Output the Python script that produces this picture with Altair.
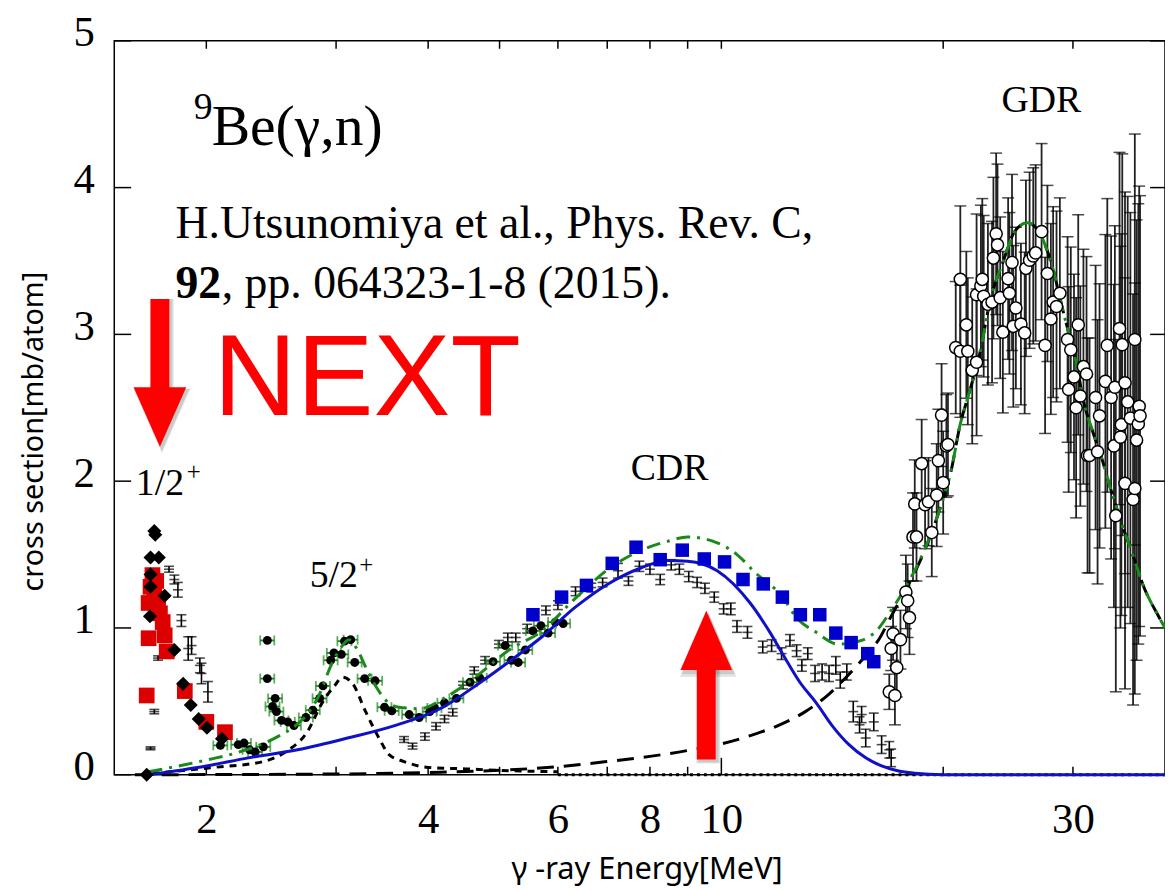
import altair as alt
import pandas as pd

# ---------------- data ----------------
# red squares (low-energy 1/2+ region)
RED_E = [1.66, 1.67, 1.67, 1.68, 1.69, 1.70, 1.71, 1.72, 1.73, 1.745, 1.756, 1.767, 1.87, 2.00, 2.12]
RED_S = [0.54, 0.93, 1.17, 1.28, 1.36, 1.22, 1.32, 1.18, 1.10, 1.04, 0.95, 0.84, 0.57, 0.36, 0.29]

# black diamonds
DIA_E = [1.66, 1.677, 1.68, 1.68, 1.68, 1.70, 1.705, 1.724, 1.756, 1.81, 1.86, 1.905, 1.953, 2.004, 2.10]
DIA_S = [0.00, 1.08, 1.28, 1.365, 1.48, 1.66, 1.635, 1.48, 1.22, 0.85, 0.62, 0.475, 0.38, 0.32, 0.245]

# small black points with error bars
K_E = [1.68, 1.70, 1.72, 1.78, 1.81, 1.83, 1.85, 1.89, 1.91, 1.96, 1.97, 2.01,
       3.71, 3.81, 3.96, 4.10, 4.21, 4.32, 4.46, 4.62, 4.78, 4.99,
       5.13, 5.26, 5.45, 5.78, 6.00, 6.34, 6.66, 6.90, 7.24, 7.48,
       7.74, 8.00, 8.26, 8.55, 8.77, 9.03, 9.27, 9.50, 9.78, 10.07,
       10.3, 10.5, 10.85, 11.38, 11.7, 12.07, 12.39, 12.65, 12.86, 13.1,
       13.4, 13.7, 14.0, 14.3, 14.5, 14.8, 15.1, 15.4, 15.5, 15.7,
       16.1, 16.5, 16.9, 17.0]
K_S = [0.18, 0.43, 0.795, 1.40, 1.33, 1.26, 1.05, 0.86, 0.88, 0.745, 0.69, 0.565,
       0.24, 0.195, 0.26, 0.33, 0.38, 0.425, 0.61, 0.71, 0.78, 0.89,
       0.935, 0.935, 0.995, 1.12, 1.155, 1.25, 1.275, 1.31, 1.39, 1.32,
       1.42, 1.40, 1.33, 1.43, 1.40, 1.35, 1.31, 1.27, 1.21, 1.13,
       1.13, 1.01, 0.97, 0.87, 0.88, 0.825, 0.915, 0.845, 0.745, 0.825,
       0.69, 0.70, 0.69, 0.745, 0.645, 0.70, 0.43, 0.34, 0.41, 0.25,
       0.36, 0.205, 0.17, 0.115]
K_ERR = [0.01, 0.015, 0.015, 0.02, 0.03, 0.05, 0.04, 0.08, 0.06, 0.05, 0.07, 0.07,
         0.02, 0.02, 0.025, 0.025, 0.025, 0.025, 0.025, 0.025, 0.025, 0.025,
         0.03, 0.03, 0.03, 0.03, 0.03, 0.03, 0.03, 0.03, 0.05, 0.03,
         0.035, 0.035, 0.035, 0.035, 0.035, 0.035, 0.035, 0.035, 0.035, 0.035,
         0.04, 0.04, 0.04, 0.04, 0.04, 0.04, 0.04, 0.04, 0.04, 0.04,
         0.055, 0.055, 0.055, 0.06, 0.055, 0.055, 0.07, 0.055, 0.055, 0.06,
         0.06, 0.06, 0.056, 0.06]

# black dots with green error bars
G_E = [2.09, 2.21, 2.25, 2.29, 2.33, 2.39, 2.42, 2.42, 2.46, 2.48,
       2.49, 2.53, 2.58, 2.63, 2.73, 2.79, 2.85, 2.88, 2.95, 2.98,
       3.05, 3.08, 3.14, 3.18, 3.28, 3.39, 3.49, 3.57, 3.77, 3.89,
       4.02, 4.08, 4.21, 4.37, 4.56, 4.70, 4.90, 5.09, 5.19, 5.30,
       5.42, 5.55, 5.69, 5.82, 5.95, 6.10]
G_S = [0.20, 0.205, 0.216, 0.17, 0.155, 0.19, 0.915, 0.655, 0.465, 0.52,
       0.43, 0.37, 0.36, 0.335, 0.39, 0.44, 0.52, 0.605, 0.78, 0.83,
       0.82, 0.91, 0.92, 0.765, 0.655, 0.64, 0.46, 0.435, 0.41, 0.39,
       0.43, 0.455, 0.49, 0.52, 0.63, 0.66, 0.77, 0.88, 0.78, 0.765,
       0.85, 0.98, 1.015, 0.965, 1.04, 1.03]

# blue squares
B_E = [5.55, 6.07, 6.56, 7.11, 7.66, 8.26, 8.85, 9.48, 10.1, 10.7, 11.4, 12.1, 12.8, 13.6, 14.3, 15.0, 15.8, 16.1]
B_S = [1.09, 1.21, 1.29, 1.44, 1.55, 1.465, 1.53, 1.47, 1.45, 1.33, 1.30, 1.21, 1.09, 1.09, 0.965, 0.90, 0.825, 0.77]

# open circles (GDR region) with error bars
O_E = [16.9, 17.0, 17.1, 17.2, 17.3, 17.5, 17.8, 17.9, 18.0, 18.2,
       18.3, 18.4, 18.7, 18.9, 19.1, 19.3, 19.6, 19.7, 19.9, 20.0,
       20.2, 20.3, 20.8, 21.1, 21.1, 21.5, 21.6, 21.9, 22.2, 22.2,
       22.5, 22.6, 22.7, 23.0, 23.3, 23.4, 23.6, 23.7, 23.9, 24.1,
       24.5, 24.6, 24.8, 24.9, 25.1, 25.5, 25.8, 25.9, 26.2, 26.5,
       26.7, 27.2, 27.5, 27.7, 28.0, 28.2, 28.5, 28.8, 29.5, 29.6,
       29.8, 30.1, 30.3, 30.5, 30.7, 31.0, 31.3, 31.4, 31.6, 32.2,
       32.4, 32.6, 33.2, 33.4, 33.8, 34.1, 34.2, 34.3, 34.7, 34.8,
       34.9, 35.0, 35.3, 35.3, 35.6, 35.9, 36.2, 36.4, 36.4, 36.6,
       36.8, 36.9, 37.0]
O_S = [0.565, 0.86, 0.96, 0.54, 0.73, 0.92, 1.245, 1.185, 1.07, 1.62,
       1.845, 1.62, 2.12, 1.84, 1.86, 1.65, 1.905, 2.14, 2.45, 1.99,
       2.24, 2.25, 2.91, 3.375, 2.885, 3.065, 2.885, 2.755, 2.81, 3.27,
       3.33, 3.375, 3.26, 3.205, 3.22, 3.52, 3.685, 3.61, 3.25, 3.015,
       3.38, 3.28, 3.49, 3.055, 3.18, 3.07, 3.01, 3.45, 3.505, 3.535,
       3.555, 3.70, 2.925, 3.415, 3.105, 3.22, 3.19, 3.28, 2.965, 2.625,
       2.895, 2.71, 2.50, 3.065, 2.58, 2.78, 2.73, 2.175, 2.175, 2.57,
       2.20, 2.445, 2.68, 2.925, 2.57, 2.24, 2.64, 1.765, 3.04, 2.30,
       2.385, 2.93, 2.67, 1.985, 2.54, 2.43, 1.875, 2.965, 1.95, 2.28,
       2.39, 2.51, 2.445]
O_ERR = [0.12, 0.15, 0.18, 0.2, 0.2, 0.2, 0.25, 0.25, 0.25, 0.3,
         0.3, 0.3, 0.3, 0.3, 0.3, 0.3, 0.35, 0.35, 0.35, 0.35,
         0.35, 0.35, 0.45, 0.5, 0.45, 0.5, 0.5, 0.5, 0.5, 0.55,
         0.55, 0.55, 0.55, 0.55, 0.55, 0.55, 0.55, 0.55, 0.55, 0.55,
         0.55, 0.55, 0.6, 0.55, 0.55, 0.55, 0.55, 0.6, 0.6, 0.6,
         0.6, 0.6, 0.6, 0.6, 0.65, 0.65, 0.65, 0.65, 0.7, 0.7,
         0.7, 0.7, 0.75, 0.75, 0.75, 0.8, 0.8, 0.8, 0.8, 0.9,
         0.9, 0.9, 1.0, 1.0, 1.1, 1.1, 1.1, 1.2, 1.2, 1.3,
         1.3, 1.3, 1.3, 1.4, 1.4, 1.4, 1.4, 1.4, 1.4, 1.5,
         1.5, 1.5, 1.5]

# curves
CDR_E = [1.67, 2.0, 2.28, 2.66, 3.11, 3.63, 4.19, 4.65, 5.15, 5.71, 6.33, 7.02, 7.79, 8.45, 9.0,
         9.87, 10.94, 11.64, 12.15, 12.78, 13.45, 14.16, 14.9, 15.7, 16.5, 17.4, 18.3, 20.0, 25.0, 30.0, 40.0]
CDR_S = [0.0, 0.06, 0.115, 0.17, 0.25, 0.34, 0.46, 0.61, 0.77, 0.94, 1.14, 1.30, 1.41, 1.46, 1.455,
         1.39, 1.17, 0.97, 0.81, 0.63, 0.49, 0.33, 0.205, 0.115, 0.06, 0.025, 0.01, 0.0, 0.0, 0.0, 0.0]

TOT_E = [1.67, 2.0, 2.2, 2.5, 2.65, 2.75, 2.85, 2.95, 3.05, 3.12, 3.2, 3.3, 3.4, 3.5, 3.65, 3.9,
         4.2, 4.65, 5.15, 5.71, 6.33, 7.02, 7.79, 8.45, 9.0, 9.87, 10.5, 11.1, 12.15, 12.6, 13.45,
         14.4, 15.5, 16.3, 17.0, 17.7, 18.7, 19.7, 20.5, 21.1, 21.6, 22.4, 23.2, 24.1, 25.0, 26.0,
         26.8, 27.5, 28.1, 29.1, 30.2, 31.1, 31.9, 32.9, 33.6, 35.0, 36.5, 37.3, 39.2, 40.0]
TOT_S = [0.02, 0.10, 0.15, 0.26, 0.34, 0.42, 0.55, 0.74, 0.87, 0.92, 0.86, 0.72, 0.60, 0.51, 0.46, 0.45,
         0.52, 0.67, 0.85, 0.98, 1.20, 1.40, 1.53, 1.59, 1.62, 1.58, 1.50, 1.38, 1.20, 1.08, 0.97,
         0.89, 0.915, 0.99, 1.12, 1.26, 1.49, 1.78, 2.07, 2.39, 2.57, 2.86, 3.245, 3.49, 3.70, 3.76,
         3.72, 3.61, 3.47, 3.155, 2.84, 2.52, 2.34, 2.14, 1.98, 1.70, 1.44, 1.30, 1.08, 1.00]

GDR_E = [1.6, 3.0, 4.0, 5.0, 6.0, 7.0, 8.0, 9.0, 10.0, 11.0, 12.0, 13.0, 14.0, 15.0, 16.0, 16.3,
         17.0, 17.7, 18.7, 19.7, 20.5, 21.1, 21.6, 22.4, 23.2, 24.1, 25.0, 26.0, 26.8, 27.5, 28.1,
         29.1, 30.2, 31.1, 31.9, 32.9, 33.6, 35.0, 36.5, 37.3, 39.2, 40.0]
GDR_S = [0.0, 0.005, 0.015, 0.03, 0.055, 0.09, 0.125, 0.165, 0.21, 0.27, 0.34, 0.43, 0.55, 0.70, 0.86, 0.91,
         1.08, 1.24, 1.48, 1.78, 2.07, 2.39, 2.57, 2.86, 3.245, 3.49, 3.70, 3.76, 3.72, 3.61, 3.47,
         3.155, 2.84, 2.52, 2.34, 2.14, 1.98, 1.70, 1.44, 1.30, 1.08, 1.00]

S52_E = [1.69, 2.05, 2.39, 2.57, 2.74, 2.88, 2.99, 3.06, 3.16, 3.29, 3.43, 3.54, 3.71, 4.0, 4.5, 5.0, 6.0]
S52_S = [0.01, 0.05, 0.09, 0.16, 0.29, 0.50, 0.61, 0.665, 0.62, 0.43, 0.25, 0.137, 0.09, 0.05, 0.04, 0.03, 0.02]

ZERO_E = [6.0, 40.0]
ZERO_S = [0.0, 0.0]

# axes
XTICKS = [2, 3, 4, 5, 6, 7, 8, 9, 20, 30]
XLONG = [10]
XLABELS = [2, 4, 6, 8, 10, 30]
YTICKS = [0, 1, 2, 3, 4, 5]

# ---------------- chart ----------------
W, H = 1058, 739
RED = "#ff0000"
GREEN = "#1a8a1a"
BLUE = "#1010c8"
SERIF = "Liberation Serif"
SANS = "Noto Sans"

xs = alt.Scale(type="log", domain=[1.5, 40], nice=False)
ys = alt.Scale(domain=[0, 5], nice=False)

xaxis = alt.Axis(values=XLABELS, format="d", title="γ -ray Energy[MeV]", labelFont=SERIF,
                 labelFontSize=43, labelColor="black", labelPadding=24, ticks=False, tickSize=0,
                 domain=False, grid=False, titleFont=SANS, titleFontSize=31, titleFontWeight="normal",
                 titleColor="black", titleX=536, titleY=104, titleAlign="center",
                 titleBaseline="alphabetic", labelFlush=False)
yaxis = alt.Axis(values=YTICKS, format="d", title="cross section[mb/atom]", labelFont=SERIF,
                 labelFontSize=43, labelColor="black", labelPadding=20, labelBaseline="alphabetic",
                 labelOffset=5, ticks=False, tickSize=0, domain=False, grid=False, titleFont=SANS,
                 titleFontSize=29, titleFontWeight="normal", titleColor="black", titleX=-72,
                 titleY=393, titleAngle=270, titleAlign="center", titleBaseline="alphabetic",
                 labelFlush=False)


def xe(f="E"):
    return alt.X(f"{f}:Q", scale=xs, axis=xaxis)


def ye(f="S"):
    return alt.Y(f"{f}:Q", scale=ys, axis=yaxis)


def df(**kw):
    return pd.DataFrame(kw)


layers = []

# inward ticks
xt = df(E=XTICKS)
xl = df(E=XLONG)
yt = df(S=YTICKS)
layers.append(alt.Chart(xt).mark_rule(color="black", strokeWidth=1.5).encode(
    x=xe(), y=alt.value(H), y2=alt.value(H - 8)))
layers.append(alt.Chart(xl).mark_rule(color="black", strokeWidth=1.5).encode(
    x=xe(), y=alt.value(H), y2=alt.value(H - 17)))
layers.append(alt.Chart(pd.concat([xt, xl])).mark_rule(color="black", strokeWidth=1.5).encode(
    x=xe(), y=alt.value(0), y2=alt.value(8)))
layers.append(alt.Chart(yt).mark_rule(color="black", strokeWidth=1.5).encode(
    y=ye(), x=alt.value(0), x2=alt.value(17)))
layers.append(alt.Chart(yt).mark_rule(color="black", strokeWidth=1.5).encode(
    y=ye(), x=alt.value(W - 15), x2=alt.value(W)))

# zero dotted line
layers.append(alt.Chart(df(E=ZERO_E, S=ZERO_S)).mark_line(
    color="black", strokeWidth=3, strokeDash=[3, 4]).encode(x=xe(), y=ye()))

# black small points with error bars
kd = alt.Chart(df(E=K_E, S=K_S, err=K_ERR)).transform_calculate(
    lo="datum.S - datum.err", hi="datum.S + datum.err")
layers.append(kd.mark_rule(color="black", strokeWidth=1.6).encode(x=xe(), y=ye("lo"), y2="hi:Q"))
for f in ["lo", "hi", "S"]:
    layers.append(kd.mark_tick(color="black", orient="horizontal", size=10, thickness=1.6).encode(
        x=xe(), y=ye(f)))

# black dots with green horizontal error bars
gd = alt.Chart(df(E=G_E, S=G_S)).transform_calculate(
    el="datum.E * 0.978", eh="datum.E * 1.022")
layers.append(gd.mark_rule(color=GREEN, strokeWidth=1.8).encode(x=xe("el"), x2="eh:Q", y=ye()))
for f in ["el", "eh"]:
    layers.append(gd.mark_tick(color=GREEN, orient="vertical", size=10, thickness=1.8).encode(
        x=xe(f), y=ye()))
layers.append(gd.mark_point(shape="circle", filled=True, color="black", size=80, opacity=1).encode(
    x=xe(), y=ye()))

# open-circle error bars
od = alt.Chart(df(E=O_E, S=O_S, err=O_ERR)).transform_calculate(
    lo="datum.S - datum.err", hi="datum.S + datum.err")
layers.append(od.mark_rule(color="#222222", strokeWidth=1.8).encode(x=xe(), y=ye("lo"), y2="hi:Q"))
for f in ["lo", "hi"]:
    layers.append(od.mark_tick(color="black", orient="horizontal", size=12, thickness=1.5).encode(
        x=xe(), y=ye(f)))

# curves
layers.append(alt.Chart(df(E=GDR_E, S=GDR_S)).mark_line(
    color="black", strokeWidth=3, strokeDash=[17, 10], interpolate="monotone").encode(x=xe(), y=ye()))
layers.append(alt.Chart(df(E=S52_E, S=S52_S)).mark_line(
    color="black", strokeWidth=3, strokeDash=[7, 6], interpolate="monotone").encode(x=xe(), y=ye()))
layers.append(alt.Chart(df(E=CDR_E, S=CDR_S)).mark_line(
    color=BLUE, strokeWidth=3, interpolate="monotone").encode(x=xe(), y=ye()))
layers.append(alt.Chart(df(E=TOT_E, S=TOT_S)).mark_line(
    color=GREEN, strokeWidth=3, strokeDash=[14, 7, 3, 7], interpolate="monotone").encode(x=xe(), y=ye()))

# red squares, diamonds, blue squares
layers.append(alt.Chart(df(E=RED_E, S=RED_S)).mark_point(
    shape="square", filled=True, color="#dc0000", size=250, opacity=1).encode(x=xe(), y=ye()))
layers.append(alt.Chart(df(E=DIA_E, S=DIA_S)).mark_point(
    shape="diamond", filled=True, color="black", size=200, opacity=1).encode(x=xe(), y=ye()))
layers.append(alt.Chart(df(E=B_E, S=B_S)).mark_point(
    shape="square", filled=True, color="#0000cc", size=185, opacity=1).encode(x=xe(), y=ye()))

# open circles
layers.append(od.mark_point(shape="circle", fill="white", stroke="black", strokeWidth=1.5,
                            size=150, opacity=1, fillOpacity=1).encode(x=xe(), y=ye()))

# ---------------- annotations ----------------
TEXTS = [
    # E, S, text, size, font, weight, color
    (1.9226, 4.466, "9", 38, SERIF, "normal", "black"),
    (2.0334, 4.288, "Be(γ,n)", 58, SERIF, "normal", "black"),
    (1.8163, 3.656, "H.Utsunomiya et al., Phys. Rev. C,", 46, SERIF, "normal", "black"),
    (1.8163, 3.250, "92", 46, SERIF, "bold", "black"),
    (2.099, 3.250, ", pp. 064323-1-8 (2015).", 46, SERIF, "normal", "black"),
    (2.046, 2.449, "NEXT", 116, "Liberation Sans", "normal", RED),
    (1.6046, 1.908, "1/2", 38, SERIF, "normal", "black"),
    (1.8813, 2.009, "+", 25, SERIF, "normal", "black"),
    (2.762, 1.2767, "5/2", 38, SERIF, "normal", "black"),
    (3.226, 1.3735, "+", 25, SERIF, "normal", "black"),
    (7.534, 2.0095, "CDR", 38, SERIF, "normal", "black"),
    (23.997, 4.513, "GDR", 38, SERIF, "normal", "black"),
]
for e, s, t, size, font, weight, color in TEXTS:
    layers.append(alt.Chart(df(E=[e], S=[s], t=[t])).mark_text(
        align="left", baseline="alphabetic", font=font, fontSize=size, fontWeight=weight,
        color=color).encode(x=xe(), y=ye(), text="t:N"))

# arrows: soft shadow, shafts and heads
SHAFTS = df(E=[1.730, 9.539], lo=[2.60, 0.1035], hi=[3.241, 0.75])
DOWN_HEAD = df(E=[1.730], S=[2.437])
UP_HEAD = df(E=[9.539], S=[0.915])
DOWN_PATH = "M-1,-1.132L1,-1.132L0,1.132Z"
UP_PATH = "M-1,1.15L1,1.15L0,-1.15Z"
for col, op, dx, dy, extra in [("#000000", 0.10, 2, 4, 5), ("#000000", 0.12, 2, 3, 2), (RED, 1, 0, 0, 0)]:
    layers.append(alt.Chart(SHAFTS).mark_rule(color=col, opacity=op, strokeWidth=19 + extra,
                                              strokeCap="butt", xOffset=dx, yOffset=dy).encode(
        x=xe(), y=ye("lo"), y2="hi:Q"))
    layers.append(alt.Chart(DOWN_HEAD).mark_point(
        shape=DOWN_PATH, filled=True, color=col, size=(53 + extra) ** 2, opacity=op,
        xOffset=dx, yOffset=dy).encode(x=xe(), y=ye()))
    layers.append(alt.Chart(UP_HEAD).mark_point(
        shape=UP_PATH, filled=True, color=col, size=(52 + extra) ** 2, opacity=op,
        xOffset=dx, yOffset=dy).encode(x=xe(), y=ye()))

chart = alt.layer(*layers).properties(
    width=W, height=H,
    padding={"left": 107, "top": 30, "right": 0, "bottom": 110},
    autosize=alt.AutoSizeParams(type="none"),
    background="white",
).configure_view(stroke="black", strokeWidth=1.5)

chart.save("out.html", embed_options={"renderer": "svg", "actions": False})
